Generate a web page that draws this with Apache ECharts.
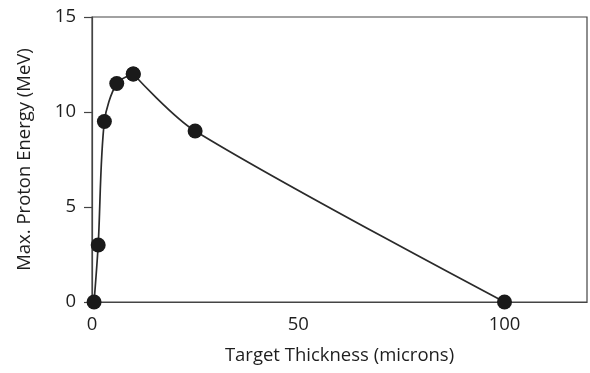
<!DOCTYPE html>
<html>
<head>
<meta charset="utf-8">
<script src="https://cdn.jsdelivr.net/npm/echarts@6/dist/echarts.min.js"></script>
<style>
  html, body { margin: 0; padding: 0; background: #fff; }
  #chart { width: 590px; height: 373px; }
</style>
</head>
<body>
<div id="chart"></div>
<script>
// Target thickness (microns) vs. maximum proton energy (MeV)
const thickness = [0.5, 1.5, 3, 6, 10, 25, 100];
const energy = [0, 3, 9.5, 11.5, 12, 9, 0];
const xTicks = [0, 50, 100];
const yTicks = [0, 5, 10, 15];

const FONT = '"Open Sans", "Noto Sans", sans-serif';
const INK = '#1e1e1e';
const FS = 18.5;

const points = thickness.map((t, i) => [t, energy[i]]);

// The curve is smoothed separately on each side of the peak so that the
// rising and falling branches meet at the maximum without overshoot.
const peak = energy.indexOf(Math.max(...energy));
const rising = points.slice(0, peak + 1);
const falling = points.slice(peak);

const branch = (data) => ({
  type: 'line',
  data,
  smooth: 0.3,
  symbol: 'circle',
  symbolSize: 15,
  itemStyle: { color: '#1a1a1a' },
  lineStyle: { color: '#2a2a2a', width: 1.7 },
  clip: false,
  z: 3
});

const chart = echarts.init(document.getElementById('chart'), null, { renderer: 'canvas' });
chart.setOption({
  animation: false,
  backgroundColor: '#fff',
  grid: {
    left: 92, right: 1, top: 17, bottom: 71,
    show: true, borderColor: '#444', borderWidth: 1.2
  },
  xAxis: {
    type: 'value',
    min: 0, max: 120, interval: 50,
    name: 'Target Thickness (microns)',
    nameLocation: 'middle',
    nameGap: 44,
    nameTextStyle: { fontFamily: FONT, fontSize: FS, color: INK },
    axisLine: { show: true, lineStyle: { color: '#444', width: 1.2 } },
    axisTick: { show: false },
    splitLine: { show: false },
    axisLabel: {
      fontFamily: FONT, fontSize: FS, color: INK, margin: 13,
      formatter: v => (xTicks.includes(v) ? String(v) : '')
    }
  },
  yAxis: {
    type: 'value',
    min: 0, max: 15, interval: 5,
    name: 'Max. Proton Energy (MeV)',
    nameLocation: 'middle',
    nameGap: 58,
    nameTextStyle: { fontFamily: FONT, fontSize: FS, color: INK },
    axisLine: { show: true, lineStyle: { color: '#444', width: 1.2 } },
    axisTick: { show: true, inside: false, length: 8, lineStyle: { color: '#444', width: 1.2 } },
    splitLine: { show: false },
    axisLabel: {
      fontFamily: FONT, fontSize: FS, color: INK, margin: 16,
      formatter: v => (yTicks.includes(v) ? String(v) : '')
    }
  },
  series: [branch(rising), branch(falling)]
});
</script>
</body>
</html>
